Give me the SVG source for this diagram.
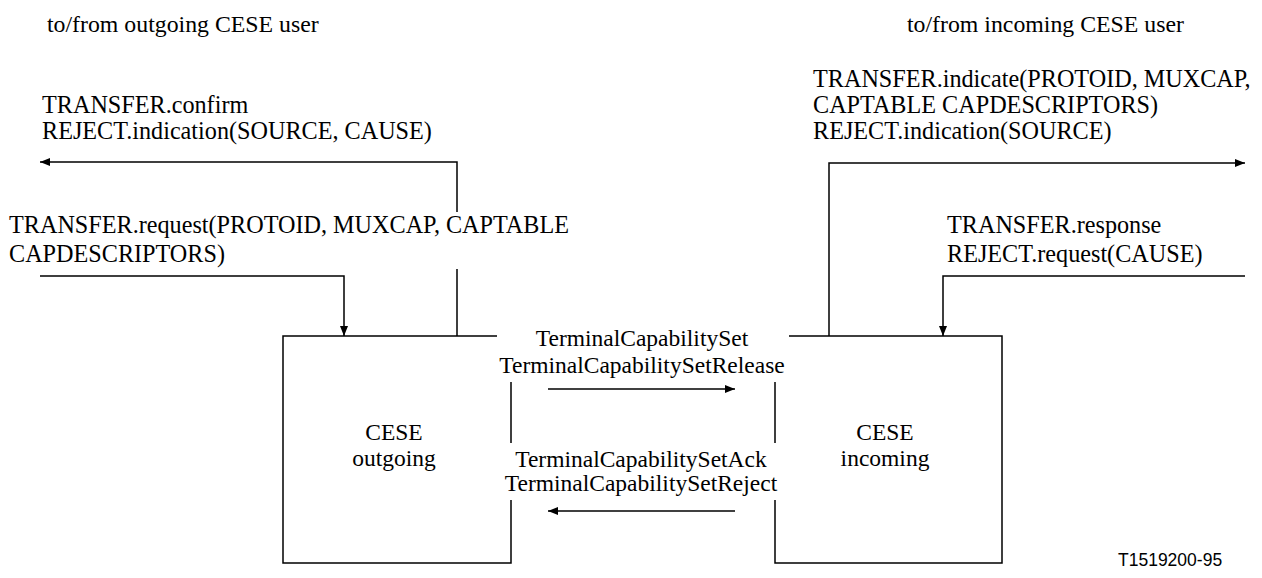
<svg xmlns="http://www.w3.org/2000/svg" width="1262" height="578" viewBox="0 0 1262 578">
  <style>
    .t { font-family: "Liberation Serif", "Times New Roman", serif; font-size: 23.5px; fill: #000; }
    .e { font-size: 24.2px; }
    .h { font-size: 23.8px; }
    .m { text-anchor: middle; }
    .s { font-family: "Liberation Sans", Arial, sans-serif; font-size: 17.5px; fill: #000; }
    .ln { fill: none; stroke: #000; stroke-width: 1.5; }
  </style>
  <defs>
    <marker id="ah" markerUnits="userSpaceOnUse" markerWidth="11" markerHeight="9" refX="10" refY="4" orient="auto">
      <path d="M0,0 L10,4 L0,8 Z" fill="#000"/>
    </marker>
  </defs>
  <rect width="1262" height="578" fill="#fff"/>

  <g id="headers">
    <text class="t h" x="47" y="32">to/from outgoing CESE user</text>
    <text class="t h" x="907" y="32">to/from incoming CESE user</text>
  </g>

  <g id="labels">
    <text class="t e" x="42" y="113">TRANSFER.confirm</text>
    <text class="t e" x="42" y="139">REJECT.indication(SOURCE, CAUSE)</text>
    <text class="t e" x="9" y="233">TRANSFER.request(PROTOID, MUXCAP, CAPTABLE</text>
    <text class="t e" x="9" y="262">CAPDESCRIPTORS)</text>
    <text class="t e" x="813" y="87">TRANSFER.indicate(PROTOID, MUXCAP,</text>
    <text class="t e" x="813" y="113">CAPTABLE CAPDESCRIPTORS)</text>
    <text class="t e" x="813" y="139">REJECT.indication(SOURCE)</text>
    <text class="t e" x="947" y="233">TRANSFER.response</text>
    <text class="t e" x="947" y="262">REJECT.request(CAUSE)</text>
    <text class="t m" x="642" y="346">TerminalCapabilitySet</text>
    <text class="t m" x="642" y="373">TerminalCapabilitySetRelease</text>
    <text class="t m" x="641" y="467">TerminalCapabilitySetAck</text>
    <text class="t m" x="641" y="491">TerminalCapabilitySetReject</text>
  </g>

  <g id="cese-outgoing">
    <path class="ln" d="M497,336 H283 V563 H511 V500 M511,443 V382"/>
    <text class="t m" x="394" y="440">CESE</text>
    <text class="t m" x="394" y="466">outgoing</text>
  </g>

  <g id="cese-incoming">
    <path class="ln" d="M789,336 H1002 V563 H775 V500 M775,443 V382"/>
    <text class="t m" x="885" y="440">CESE</text>
    <text class="t m" x="885" y="466">incoming</text>
  </g>

  <g id="connectors">
    <path class="ln" d="M457,336 V269 M457,212 V162 H40" marker-end="url(#ah)"/>
    <path class="ln" d="M40,276 H344 V336" marker-end="url(#ah)"/>
    <path class="ln" d="M829,336 V163 H1245" marker-end="url(#ah)"/>
    <path class="ln" d="M1245,276 H943 V336" marker-end="url(#ah)"/>
    <path class="ln" d="M548,389 H735" marker-end="url(#ah)"/>
    <path class="ln" d="M735,511 H548" marker-end="url(#ah)"/>
  </g>

  <text class="s" x="1118" y="566">T1519200-95</text>
</svg>
